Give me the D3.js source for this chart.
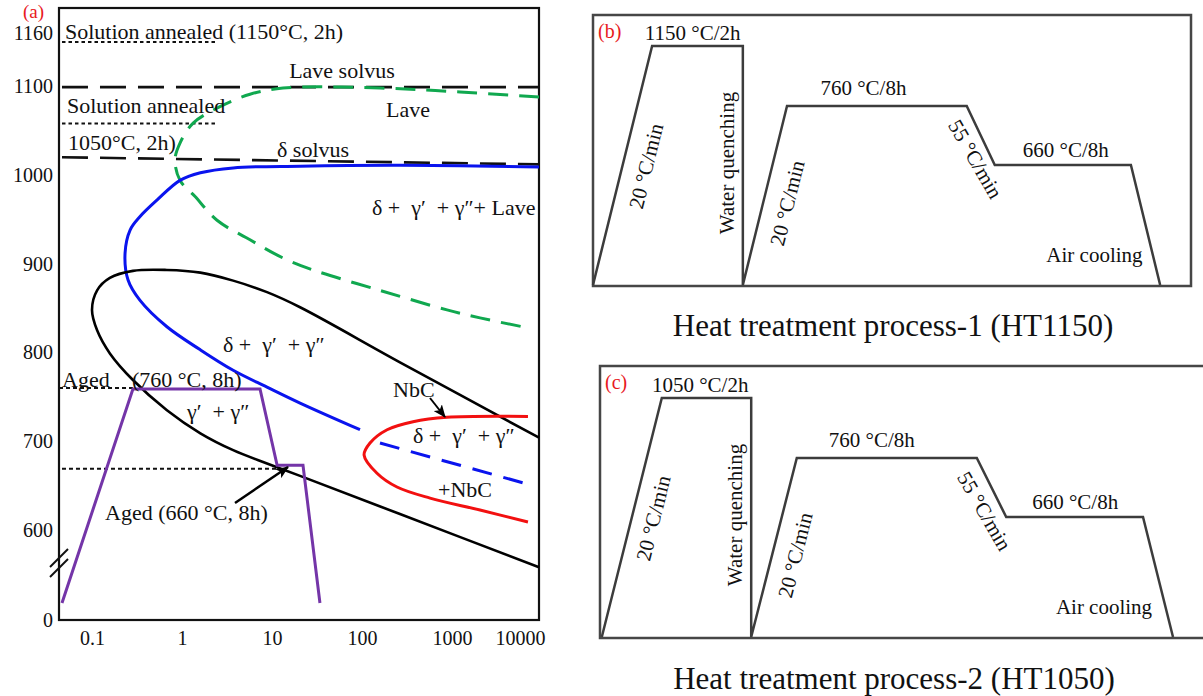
<!DOCTYPE html>
<html><head><meta charset="utf-8">
<script src="https://cdn.jsdelivr.net/npm/d3@7"></script>
<style>
body{margin:0;background:#fff}
svg{display:block;font-family:"Liberation Serif","Times New Roman",serif}
text{white-space:pre}
</style></head><body>
<svg id="chart" width="1203" height="696"></svg>
<script>
// ---------- DATA : panel (a) TTT diagram (time h, temperature °C) ----------
const yTickValues = [0, 600, 700, 800, 900, 1000, 1100, 1160];
const xTickValues = [0.1, 1, 10, 100, 1000, 10000];
const lavesSolvus = [[0.0464, 1099], [9270, 1099]];
const deltaSolvus = [[0.0464, 1020], [9270, 1012]];
const anneal1150 = [[0.0464, 1150], [2.33, 1150]];
const anneal1050 = [[0.0464, 1058], [2.33, 1058]];
const aged760 = [[0.043, 760], [0.285, 760]];
const aged660 = [[0.0464, 669], [11.4, 669]];
const gammaCurve = [[9270,704],[264,789],[20.5,851],[8.8,868],[3.7,881],[1.6,890],[0.68,893],[0.285,892],[0.158,884],[0.114,870],[0.1,848],[0.114,825],[0.158,799],[0.285,769],[0.68,735],[1.6,709],[3.7,690],[8.8,675],[20.5,661],[264,618],[9270,558]];
const deltaCurve = [[9270,1009],[264,1011],[20.5,1010],[3.7,1008],[1.6,1002.5],[0.95,994],[0.53,972],[0.34,953],[0.265,938],[0.233,912],[0.251,882],[0.34,859],[0.68,829],[1.6,803],[3.7,780],[8.8,761],[20.5,743],[95,713]];
const deltaDashed = [[158.5,698],[7356,651]];
const lavesCurve = [[9270,1088],[1227,1093.5],[158.5,1098],[13.25,1098],[5.7,1091],[2.64,1077],[1.33,1058.5],[0.95,1036],[0.836,1017],[0.95,994],[1.39,976],[2.45,949],[5.7,927],[13.25,906.5],[28.6,893],[158.5,870],[880,848],[2047,839],[6813,828]];
const nbcCurve = [[6985,728],[880,727],[369,722],[190,713],[122.7,698],[105.5,684.5],[146.8,664],[244.7,648.5],[570,636],[2047,622.5],[6985,609]];
const agingPath = [[0.0464,25],[0.285,759],[7.36,759],[11.4,673],[22.1,673],[34.1,25]];

// ---------- DATA : panels (b) and (c) heat-treatment schedules ----------
const procTime1 = [0, 9.9, 25.1, 25.1, 32.5, 62.6, 67.3, 90.1, 95.0];
const procTemp1 = [25, 1150, 1150, 25, 760, 760, 660, 660, 25];
const procTime2 = [0.3, 10.3, 25.2, 25.2, 32.8, 62.8, 67.7, 90.5, 95.5];
const procTemp2 = [25, 1050, 1050, 25, 760, 760, 660, 660, 25];
const procLevels1 = [25, 660, 760, 1150];
const procLevels2 = [25, 660, 760, 1050];

// ---------- DRAWING ----------
const svg = d3.select("#chart");
const defs = svg.append("defs");
defs.append("marker").attr("id","arr").attr("viewBox","0 0 12 10").attr("refX",11).attr("refY",5)
  .attr("markerWidth",13).attr("markerHeight",11).attr("markerUnits","userSpaceOnUse").attr("orient","auto")
  .append("path").attr("d","M0,0 L12,5 L0,10 L3,5 Z").attr("fill","#000");

const gA = svg.append("g");
const x = d3.scaleLog().domain([0.1, 1000]).range([92, 452]);
const y = d3.scaleLinear().domain([0, 25, 550, 1160]).range([620, 603, 574.4, 33]);
const line = d3.line().x(d => x(d[0])).y(d => y(d[1]));
const smooth = d3.line().x(d => x(d[0])).y(d => y(d[1])).curve(d3.curveCatmullRom.alpha(0.5));

// axes
const yAxis = d3.axisLeft(y).tickValues(yTickValues).tickSize(0).tickPadding(6).tickFormat(d3.format("d"));
const ya = gA.append("g").attr("transform","translate(59,0)").call(yAxis);
ya.select(".domain").remove();
ya.selectAll("text").attr("font-size",20).attr("font-family","Liberation Serif").attr("fill","#111");
const xAxis = d3.axisBottom(x).tickValues(xTickValues).tickSize(0).tickPadding(11).tickFormat(d => String(d));
const xa = gA.append("g").attr("transform","translate(0,620)").call(xAxis);
xa.select(".domain").remove();
xa.selectAll("text").attr("font-size",20).attr("font-family","Liberation Serif").attr("fill","#111");
xa.selectAll(".tick").filter(d => d === 10000).select("text").attr("dx", -22);

gA.append("rect").attr("x",59).attr("y",8).attr("width",480).attr("height",612)
  .attr("fill","none").attr("stroke","#111").attr("stroke-width",2.2);
// axis break marks
gA.append("line").attr("x1",50).attr("y1",567).attr("x2",68).attr("y2",549).attr("stroke","#111").attr("stroke-width",2);
gA.append("line").attr("x1",50).attr("y1",577).attr("x2",68).attr("y2",559).attr("stroke","#111").attr("stroke-width",2);

function drawPath(data, gen, color, w, dash) {
  const p = gA.append("path").attr("d", gen(data)).attr("fill","none").attr("stroke",color).attr("stroke-width",w);
  if (dash) p.attr("stroke-dasharray", dash);
  return p;
}
drawPath(anneal1150, line, "#111", 2, "3.5 3");
drawPath(anneal1050, line, "#111", 2, "3.5 3");
drawPath(aged760, line, "#111", 2, "4 3");
drawPath(aged660, line, "#111", 2, "4 3");
drawPath(lavesSolvus, line, "#111", 2.6, "26 12");
drawPath(deltaSolvus, line, "#111", 2.6, "26 12");
drawPath(lavesCurve, smooth, "#10a84f", 3, "20 11");
drawPath(deltaCurve, smooth, "#0a14ee", 3, null);
drawPath(deltaDashed, line, "#0a14ee", 3, "20 12");
drawPath(gammaCurve, smooth, "#000", 2.6, null);
drawPath(nbcCurve, smooth, "#f21010", 3, null);
drawPath(agingPath, line, "#7435a8", 3, null);

// arrows
gA.append("line").attr("x1",430).attr("y1",398).attr("x2",445).attr("y2",417).attr("stroke","#000").attr("stroke-width",2).attr("marker-end","url(#arr)");
gA.append("line").attr("x1",235).attr("y1",503).attr("x2",288).attr("y2",467).attr("stroke","#000").attr("stroke-width",2.5).attr("marker-end","url(#arr)");

function label(g, txt, px, py, opts = {}) {
  return g.append("text").attr("x",px).attr("y",py).text(txt)
    .attr("font-size", opts.size || 22).attr("fill", opts.color || "#111")
    .attr("text-anchor", opts.anchor || "start");
}
label(gA, "(a)", 23, 18, {size:19, color:"#e8191d"});
label(gA, "Solution annealed (1150°C, 2h)", 65, 39);
label(gA, "Lave solvus", 342, 78, {anchor:"middle"});
label(gA, "Solution annealed", 67, 113);
label(gA, "1050°C, 2h)", 68, 150);
label(gA, "δ solvus", 277, 157);
label(gA, "Lave", 408, 117, {anchor:"middle"});
label(gA, "δ +  γ′  + γ″+ Lave", 372, 215);
label(gA, "δ +  γ′  + γ″", 223, 352);
label(gA, "Aged", 62, 387);
label(gA, "(760 °C, 8h)", 132, 387);
label(gA, "γ′  + γ″", 187, 419);
label(gA, "NbC", 393, 397);
label(gA, "δ +  γ′  + γ″", 413, 443);
label(gA, "+NbC", 438, 497);
label(gA, "Aged (660 °C, 8h)", 105, 520);

// ---------- process panels ----------
function drawProcess(opt) {
  const g = svg.append("g");
  const px = d3.scaleLinear().domain([0, 100]).range([opt.x0, opt.x1]);
  const py = d3.scaleLinear().domain(opt.levels).range([opt.yb, opt.yb - 120, opt.yb - 179, opt.yb - 239]);
  g.append("rect").attr("x",opt.x0).attr("y",opt.yt).attr("width",opt.boxW).attr("height",opt.yb - opt.yt + 1)
    .attr("fill","none").attr("stroke","#464646").attr("stroke-width",2.5);
  const pts = opt.times.map((t, i) => [t, opt.temps[i]]);
  g.append("path").attr("d", d3.line().x(d => px(d[0])).y(d => py(d[1]))(pts))
    .attr("fill","none").attr("stroke","#3c3c3c").attr("stroke-width",2.5).attr("stroke-linejoin","miter");
  const base = py(opt.levels[0]);
  label(g, opt.tag, opt.x0 + 5, opt.yt + 23, {size:20, color:"#e8191d"});
  label(g, opt.peak + " °C/2h", px(16.7), py(opt.levels[3]) - 6, {size:21, anchor:"middle"});
  label(g, "760 °C/8h", px(45.3), py(760) - 11, {size:21, anchor:"middle"});
  label(g, "660 °C/8h", px(79.2), py(660) - 8, {size:21, anchor:"middle"});
  label(g, "Air cooling", px(84), base - 23, {size:21, anchor:"middle"});
  const rot = (txt, t, dy, ang) => g.append("text").text(txt)
    .attr("transform", `translate(${px(t)},${base - dy}) rotate(${ang})`)
    .attr("text-anchor","middle").attr("dy","0.35em").attr("font-size",21).attr("fill","#111");
  rot("20 °C/min", 8.85, 119, -76);
  rot("Water quenching", 22.45, 122, -90);
  rot("20 °C/min", 32.5, 82, -76);
  rot("55 °C/min", 64.1, 126, 60);
  label(g, opt.caption, opt.capX, opt.capY, {size:31, anchor:"middle"});
}
drawProcess({x0:593, x1:1190, boxW:598, yt:15, yb:285, times:procTime1, temps:procTemp1, levels:procLevels1,
  tag:"(b)", peak:"1150", caption:"Heat treatment process-1 (HT1150)", capX:893, capY:336});
drawProcess({x0:600, x1:1200, boxW:605, yt:366, yb:637, times:procTime2, temps:procTemp2, levels:procLevels2,
  tag:"(c)", peak:"1050", caption:"Heat treatment process-2 (HT1050)", capX:894, capY:689});
</script>
</body></html>
